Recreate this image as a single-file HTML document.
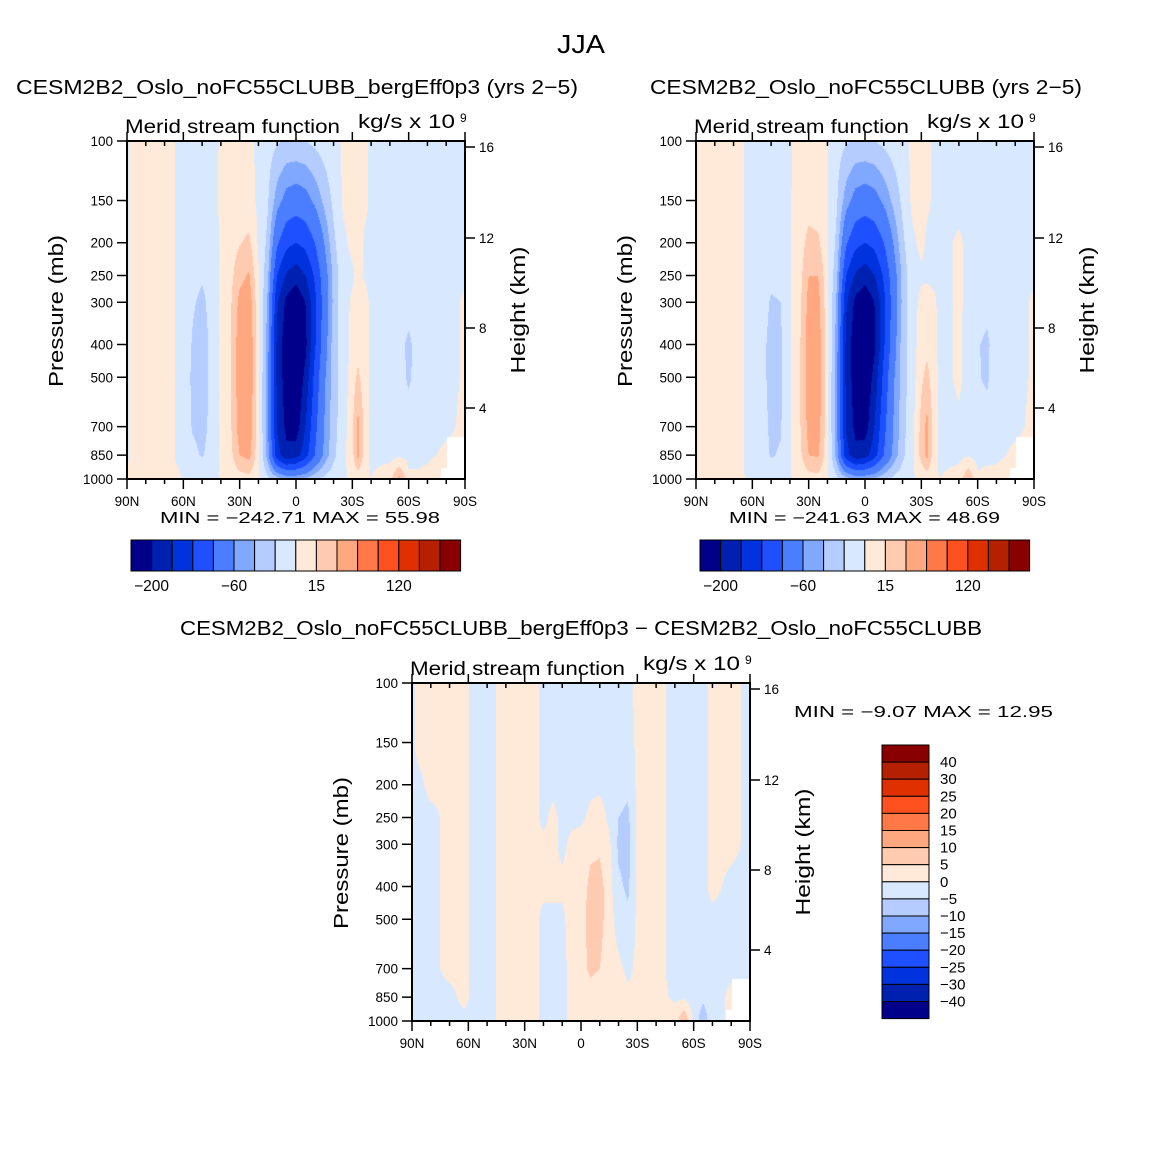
<!DOCTYPE html>
<html><head><meta charset="utf-8">
<style>
body{margin:0;background:#fff;width:1163px;height:1160px;overflow:hidden;position:relative;font-family:"Liberation Sans",sans-serif}
canvas{position:absolute}
svg{position:absolute;left:0;top:0}
svg text{font-family:"Liberation Sans",sans-serif;fill:#000}
</style></head><body>
<canvas id="cA" width="338" height="338" style="left:127px;top:141px"></canvas>
<canvas id="cB" width="338" height="338" style="left:696px;top:141px"></canvas>
<canvas id="cD" width="338" height="338" style="left:412px;top:683px"></canvas>
<svg id="ov" width="1163" height="1160"></svg>
<script>
const lats=[90,87,80,70,62,55,50,45,40,35,30,25,20,15,10,5,0,-5,-10,-15,-20,-25,-30,-33,-37,-40,-50,-55,-60,-65,-70,-80,-90];
const pLevels=[100,150,200,250,300,400,500,700,850,1000];
const pTicks=[100,150,200,250,300,400,500,700,850,1000];
const latTicks=[90,60,30,0,-30,-60,-90];
const latTickLabels=["90N","60N","30N","0","30S","60S","90S"];
const mainBounds=[-200,-165,-130,-95,-60,-40,-20,0,15,30,60,90,120,150,180];
const mainLabels=["−200","−60","15","120"];
const diffBounds=[-40,-30,-25,-20,-15,-10,-5,0,5,10,15,20,25,30,40];
const diffLabels=["40","30","25","20","15","10","5","0","−5","−10","−15","−20","−25","−30","−40"];
const colors=["#00008a","#0020b0","#0033dd","#1f50ff","#4a7dff","#80a8ff","#b4ccff","#d8e9ff","#ffe9d8","#ffcbb0","#ffa880","#ff7848","#ff5020","#e03000","#b52000","#880000"];
const fieldA=[
[-3,-3,-3,-3,-3,-3,-3,-3,-3,2],
[5,5,5,5,5,5,5,5,5,5],
[6,6,6,6,6,6,6,6,6,5],
[4,4,4,4,4,4,4,4,4,3],
[-2,-2,-2,-2,-2,-2,-2,-2,-2,1],
[-8,-10,-12,-14,-18,-22,-24,-22,-15,-5],
[-8,-10,-14,-18,-24,-28,-28,-26,-22,-5],
[-6,-8,-10,-12,-14,-16,-16,-15,-12,-3],
[2,3,3,3,3,3,3,3,3,1],
[5,6,8,10,12,12,12,12,10,4],
[5,8,14,25,35,40,40,38,30,8],
[3,6,18,32,40,45,45,42,35,10],
[-3,-3,-2,2,4,6,6,6,5,2],
[-12,-18,-25,-35,-45,-50,-55,-55,-50,-15],
[-18,-50,-90,-130,-160,-175,-175,-170,-150,-30],
[-22,-70,-120,-170,-210,-225,-220,-210,-190,-40],
[-22,-75,-130,-185,-230,-245,-235,-220,-180,-40],
[-20,-70,-120,-165,-200,-210,-190,-165,-145,-35],
[-15,-55,-95,-125,-140,-135,-120,-105,-95,-25],
[-10,-35,-60,-75,-80,-75,-65,-60,-55,-15],
[-5,-15,-25,-35,-35,-30,-30,-28,-25,-8],
[2,2,-3,-5,-5,-10,-10,-8,-5,-2],
[4,4,3,-2,2,5,8,12,10,2],
[3,3,5,3,6,10,18,35,35,5],
[2,2,-2,-2,5,5,6,6,5,2],
[-3,-2,-2,-4,-4,-4,-3,-4,-3,0],
[-6,-6,-6,-6,-8,-10,-10,-8,-5,10],
[-6,-6,-6,-6,-8,-12,-10,-6,-3,35],
[-6,-6,-6,-8,-10,-25,-24,-8,-4,3],
[-6,-6,-6,-6,-8,-10,-10,-6,-3,2],
[-6,-6,-6,-6,-6,-6,-6,-5,-3,5],
[-5,-5,-5,-5,-5,-5,-5,-3,3,20],
[-2,-2,-2,-2,2,2,2,3,4,5]];
const fieldB=[
[3,3,3,3,3,3,3,3,3,3],
[5,5,5,5,5,5,5,5,5,5],
[6,6,6,6,6,6,6,6,6,5],
[4,4,4,4,4,4,4,4,4,3],
[-2,-2,-2,-2,-2,-2,-2,-2,-2,-1],
[-6,-8,-8,-10,-12,-14,-14,-12,-10,-3],
[-8,-10,-12,-16,-22,-26,-26,-24,-22,-5],
[-6,-8,-10,-14,-20,-24,-24,-22,-18,-4],
[-1,-1,-1,-1,-1,-1,-1,-1,-1,-1],
[4,5,7,8,10,12,12,12,10,4],
[5,8,20,30,35,38,38,35,30,8],
[3,6,18,30,36,40,40,38,32,10],
[1,1,2,4,5,6,6,6,5,2],
[-12,-18,-25,-35,-45,-50,-55,-55,-50,-15],
[-18,-50,-90,-130,-160,-175,-175,-170,-150,-30],
[-22,-70,-120,-170,-210,-225,-220,-210,-190,-40],
[-22,-75,-130,-185,-228,-243,-233,-218,-180,-40],
[-20,-70,-120,-165,-200,-208,-188,-165,-145,-35],
[-15,-55,-95,-125,-140,-135,-120,-105,-95,-25],
[-10,-35,-60,-75,-80,-75,-65,-60,-55,-15],
[-5,-15,-25,-35,-35,-30,-30,-28,-25,-8],
[3,3,-3,-5,-5,-8,-8,-6,-4,-2],
[5,5,3,-2,3,8,12,20,20,3],
[3,2,-2,-2,5,10,20,35,35,5],
[-2,-2,-3,-3,2,4,5,6,5,1],
[-4,-4,-4,-4,-4,-4,-4,-4,-3,0],
[-4,-4,2,2,2,2,2,-2,-3,5],
[-4,-4,-3,-3,-3,-4,-4,-4,-2,30],
[-6,-6,-6,-6,-8,-18,-18,-8,-4,2],
[-6,-6,-6,-8,-12,-25,-24,-10,-4,5],
[-6,-6,-6,-6,-6,-6,-6,-5,-3,5],
[-5,-5,-5,-5,-5,-5,-5,-3,3,8],
[-2,-2,-2,-2,2,2,2,3,4,5]];
const fieldD=[
[-1,-1,-1,-1,-1,-1,-1,-1,-1,-1],
[1,1,-1,-1,-1,-1,-1,-1,-1,-1],
[1,1,1,-1,-1,-1,-1,-1,-1,-1],
[1,1,1,1,1,1,1,1,-1,-1],
[1,1,1,1,1,1,1,1,1,-1],
[-2,-2,-2,-2,-2,-2,-2,-2,-2,-2],
[-2,-2,-2,-2,-2,-2,-2,-2,-2,-2],
[0,0,0,0,0,0,0,0,0,0],
[2,2,2,2,2,2,2,2,2,2],
[2,2,2,2,2,2,2,2,2,2],
[2,2,2,2,2,2,2,2,2,2],
[1,1,1,1,1,1,1,1,1,1],
[-1,-1,-1,-1,1,1,-1,-1,-1,-1],
[-1,-1,-1,1,1,1,-1,-1,-1,-1],
[-1,-1,-1,-1,-1,1,-1,-1,-1,-1],
[-2,-2,-2,-1,1,2,2,1,1,1],
[-2,-2,-2,-1,2,3,3,3,2,2],
[-2,-2,-1,1,4,6,7,6,3,2],
[-2,-2,-1,2,4,7,7,5,2,2],
[-2,-2,-2,-1,1,2,2,2,2,2],
[-1,-2,-3,-5,-6,-4,-2,1,2,2],
[-1,-2,-4,-6,-7,-6,-4,-1,1,1],
[1,1,1,1,1,1,1,1,1,1],
[2,2,2,2,2,2,2,2,2,2],
[2,2,2,2,2,2,2,2,2,2],
[2,2,2,2,2,2,2,2,2,2],
[-2,-2,-2,-2,-2,-2,-2,-2,-1,3],
[-2,-2,-2,-2,-2,-2,-2,-2,-1,10],
[-2,-2,-2,-2,-2,-2,-2,-2,-2,-2],
[-1,-1,-1,-1,-1,-1,-1,-2,-4,-8],
[1,1,1,1,1,1,-1,-1,-2,-2],
[1,1,1,1,1,-1,-1,-1,1,1],
[-1,-1,-1,-1,-1,-1,-1,-1,1,1]];

const W=338,H=338;
function xOfLat(x0,lat){return x0+(90-lat)/180*W;}
function yOfP(y0,p){return y0+Math.log10(p/100)*H;}
function hex(c){return [parseInt(c.slice(1,3),16),parseInt(c.slice(3,5),16),parseInt(c.slice(5,7),16)];}
const rgb=colors.map(hex);
function colorIdx(v,b){let i=0;while(i<b.length&&v>=b[i])i++;return i;}
function drawField(id,field,bounds){
  const cv=document.getElementById(id),ctx=cv.getContext('2d');
  const img=ctx.createImageData(W,H);
  const lp=pLevels.map(p=>Math.log10(p));
  for(let py=0;py<H;py++){
    const l=2+(py+0.5)/H;
    let j=0;while(j<lp.length-2&&l>lp[j+1])j++;
    const v=Math.min(1,Math.max(0,(l-lp[j])/(lp[j+1]-lp[j])));
    for(let px=0;px<W;px++){
      const lat=90-(px+0.5)/W*180;
      let i=0;while(i<lats.length-2&&lat<lats[i+1])i++;
      const u=Math.min(1,Math.max(0,(lats[i]-lat)/(lats[i]-lats[i+1])));
      const val=(1-u)*(1-v)*field[i][j]+u*(1-v)*field[i+1][j]+(1-u)*v*field[i][j+1]+u*v*field[i+1][j+1];
      const c=rgb[colorIdx(val,bounds)];
      const k=(py*W+px)*4;img.data[k]=c[0];img.data[k+1]=c[1];img.data[k+2]=c[2];img.data[k+3]=255;
    }
  }
  ctx.putImageData(img,0,0);
  ctx.fillStyle='#fff';ctx.fillRect(W-18,H-42,18,42);ctx.fillRect(W-24,H-11,6,11);
}
drawField('cA',fieldA,mainBounds);
drawField('cB',fieldB,mainBounds);
drawField('cD',fieldD,diffBounds);

const svg=document.getElementById('ov');const NS='http://www.w3.org/2000/svg';
function mk(tag,attrs,parent){const e=document.createElementNS(NS,tag);for(const k in attrs)e.setAttribute(k,attrs[k]);(parent||svg).appendChild(e);return e;}
function txt(x,y,s,size,anchor,name,extra,len){const a=Object.assign({x:x,y:y,'font-size':size,'text-anchor':anchor||'start'},extra||{});
if(len){a.textLength=len;a.lengthAdjust='spacingAndGlyphs';}
const e=mk('text',a);e.textContent=s;


return e;}
function line(x1,y1,x2,y2,w,name){const e=mk('line',{x1:x1,y1:y1,x2:x2,y2:y2,stroke:'#000','stroke-width':w||1.5});


return e;}

function panel(x0,y0,prefix){
  const g=mk('g',{});
  
  
  const r=mk('rect',{x:x0,y:y0,width:W,height:H,fill:'none',stroke:'#000','stroke-width':2},g);
  
  
  pTicks.forEach(p=>{const y=yOfP(y0,p);line(x0-10,y,x0,y,1.5,prefix+'-y-tick');
    txt(x0-14,y+5,String(p),13.5,'end',prefix+'-y-tick-label');});
  for(let lat=90;lat>=-90;lat-=10){const x=xOfLat(x0,lat);const major=(lat%30===0);
    line(x,y0+H,x,y0+H+(major?10:5),1.5,prefix+'-x-tick');
    line(x,y0,x,major?y0-9:y0+5,1.5,prefix+'-x-top-tick');}
  latTicks.forEach((lat,i)=>txt(xOfLat(x0,lat),y0+H+27,latTickLabels[i],13.5,'middle',prefix+'-x-tick-label'));
  const hk=[[16,6],[12,97],[8,187],[4,267]];
  hk.forEach(h=>{line(x0+W,y0+h[1],x0+W+10,y0+h[1],1.5,prefix+'-height-tick');txt(x0+W+14,y0+h[1]+5,String(h[0]),13.5,'start',prefix+'-height-tick-label');});
  txt(0,0,'Pressure (mb)',20,'middle',prefix+'-y-axis-title',{transform:`translate(${x0-64},${y0+170}) rotate(-90)`},152);
  txt(0,0,'Height (km)',20,'middle',prefix+'-height-axis-title',{transform:`translate(${x0+W+60},${y0+169}) rotate(-90)`},127);
  txt(x0-2,y0-8,'Merid stream function',19,'start',prefix+'-field-label',null,215);
  txt(x0+231,y0-13,'kg/s x 10',19,'start',prefix+'-units-label',null,97);
  txt(x0+333,y0-19,'9',12,'start',prefix+'-units-exponent');
}
function colorbarH(x0,y0,prefix,mn,mx,len){
  for(let i=0;i<16;i++){const r=mk('rect',{x:x0+i*20.6,y:y0,width:20.6,height:31,fill:colors[i],stroke:'#000','stroke-width':1});
    
    }
  [1,5,9,13].forEach((b,k)=>txt(x0+b*20.6,y0+51,mainLabels[k],15.5,'middle',prefix+'-colorbar-label'));
  txt(x0+29,y0-17,'MIN =  '+mn+'    MAX =   '+mx,15.5,'start',prefix+'-min-max',null,len);
}
panel(127,141,'left');panel(696,141,'right');panel(412,683,'diff');
colorbarH(131,540,'left','−242.71','55.98',280);
colorbarH(700,540,'right','−241.63','48.69',271);
for(let i=0;i<16;i++){const r=mk('rect',{x:882,y:745+i*17.1,width:47,height:17.1,fill:colors[15-i],stroke:'#000','stroke-width':1});
  
  }
diffLabels.forEach((s,i)=>txt(940,745+(i+1)*17.1+5,s,15,'start','diff-colorbar-label'));
txt(794,717,'MIN =   −9.07    MAX =   12.95',15.5,'start','diff-min-max',null,259);
txt(557,53,'JJA',26,'start','main-title',null,48);
txt(16,94,'CESM2B2_Oslo_noFC55CLUBB_bergEff0p3 (yrs 2−5)',20,'start','left-title',null,562);
txt(650,94,'CESM2B2_Oslo_noFC55CLUBB (yrs 2−5)',20,'start','right-title',null,432);
txt(180,635,'CESM2B2_Oslo_noFC55CLUBB_bergEff0p3 − CESM2B2_Oslo_noFC55CLUBB',20,'start','diff-title',null,802);
</script>
</body></html>
